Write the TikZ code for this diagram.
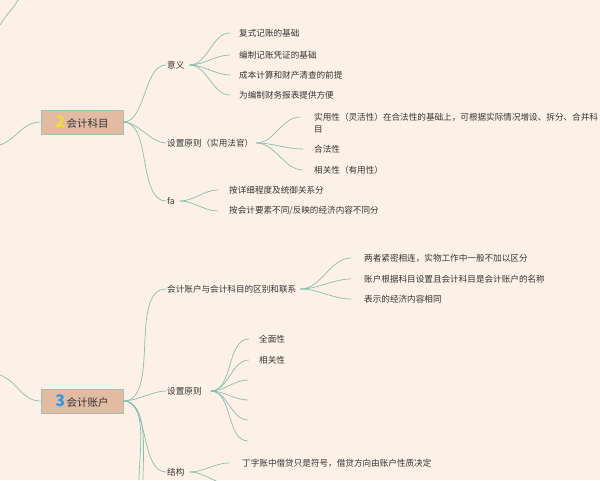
\documentclass[tikz,border=0pt]{standalone}
\usepackage{fontspec}
\setmainfont{Noto Sans CJK SC}
\definecolor{bg}{HTML}{FDF1E7}
\definecolor{ln}{HTML}{86BFAE}
\definecolor{boxf}{HTML}{E2BBA2}
\definecolor{boxd}{HTML}{9CC4B2}
\definecolor{txt}{HTML}{333333}
\definecolor{yel}{HTML}{F2DA3A}
\definecolor{blu}{HTML}{2A9BE0}
\begin{document}
\begin{tikzpicture}[x=1pt,y=-1pt,
  lbl/.style={anchor=west,inner sep=1pt,font=\fontsize{8.6}{12}\selectfont,text=txt},
  topic/.style={draw=boxd,line width=0.8pt,fill=boxf,minimum width=82,minimum height=24,inner sep=0pt,font=\fontsize{10.5}{12}\selectfont,text=txt},
  br/.style={draw=ln,line width=0.7pt},
  cv/.style={out=0,in=180,looseness=0.9}]
\fill[bg] (0,0) rectangle (600,480);
\useasboundingbox (0,0) rectangle (600,480);
% outer edges
\coordinate (o1) at (0,25); \coordinate (o1e) at (18,0);
\coordinate (o2) at (0,145); \coordinate (o3) at (0,375);
\coordinate (d1) at (139,480); \coordinate (d2) at (143,480);
% topics
\node[topic] (t2) at (82,122) {{\fontsize{16}{16}\selectfont\bfseries\color{yel}2}\,会计科目};
\node[topic] (t3) at (82,401) {{\fontsize{16}{16}\selectfont\bfseries\color{blu}3}\,会计账户};
\draw[br] (o1) to[out=60,in=240] (o1e);
\draw[br] (o2) to[out=20,in=180] (t2.west);
\draw[br] (o3) to[out=-20,in=180] (t3.west);
% level 1 of t2
\node[lbl] (yy) at (166,65) {意义};
\node[lbl] (sz) at (166,143) {设置原则（实用法官）};
\node[lbl] (fa) at (166,201) {fa};
\foreach \n in {yy,sz,fa} \draw[br] (t2.east) to[out=0,in=180,looseness=0.8] (\n.west);
% 意义 children
\node[lbl] (y1) at (238,33) {复式记账的基础};
\node[lbl] (y2) at (238,55) {编制记账凭证的基础};
\node[lbl] (y3) at (238,75) {成本计算和财产清查的前提};
\node[lbl] (y4) at (238,95) {为编制财务报表提供方便};
\foreach \n in {y1,y2,y3,y4} \draw[br] (yy.east)++(4,0) to[cv] ([xshift=-8pt]\n.west);
% 设置原则 children
\node[lbl,text width=300,align=left] (s1) at (313,123) {实用性（灵活性）在合法性的基础上，可根据实际情况增设、拆分、合并科\\目};
\node[lbl] (s2) at (313,149) {合法性};
\node[lbl] (s3) at (313,170) {相关性（有用性）};
\draw[br] (sz.east)++(2,0) to[cv] (300,117);
\foreach \n in {s2,s3} \draw[br] (sz.east)++(2,0) to[cv] ([xshift=-10pt]\n.west);
% fa children
\node[lbl] (f1) at (228,190) {按详细程度及统御关系分};
\node[lbl] (f2) at (228,211) {按会计要素不同/反映的经济内容不同分};
\foreach \n in {f1,f2} \draw[br] (fa.east)++(4,0) to[cv] ([xshift=-10pt]\n.west);
% level 1 of t3
\node[lbl] (qb) at (166,289) {会计账户与会计科目的区别和联系};
\node[lbl] (sy) at (166,391) {设置原则};
\node[lbl] (jg) at (166,472) {结构};
\foreach \n in {qb,sy,jg} \draw[br] (t3.east) to[out=0,in=180,looseness=0.8] (\n.west);
\draw[br] (t3.east) to[out=0,in=90,looseness=0.8] (d1);
\draw[br] (t3.east) to[out=0,in=90,looseness=0.8] (d2);
% 区别和联系 children
\node[lbl] (q1) at (363,258) {两者紧密相连，实物工作中一般不加以区分};
\node[lbl] (q2) at (363,279) {账户根据科目设置且会计科目是会计账户的名称};
\node[lbl] (q3) at (363,299) {表示的经济内容相同};
\foreach \n in {q1,q2,q3} \draw[br] (qb.east)++(3,0) to[cv] ([xshift=-12pt]\n.west);
% 设置原则 (3) children
\node[lbl] (p1) at (258,339) {全面性};
\node[lbl] (p2) at (258,360) {相关性};
\coordinate (p3) at (248,380);
\coordinate (p4) at (248,400);
\coordinate (p5) at (248,420);
\coordinate (p6) at (248,441);
\foreach \n in {p1,p2} \draw[br] (sy.east)++(8,0) to[cv] ([xshift=-9pt]\n.west);
\foreach \n in {p3,p4,p5,p6} \draw[br] (sy.east)++(8,0) to[cv] (\n);
% 结构 children
\node[lbl] (j1) at (241,463) {丁字账中借贷只是符号，借贷方向由账户性质决定};
\coordinate (j2) at (232,485);
\draw[br] (jg.east)++(4,0) to[cv] ([xshift=-12pt]j1.west);
\draw[br] (jg.east)++(4,0) to[cv] (j2);
\end{tikzpicture}
\end{document}
